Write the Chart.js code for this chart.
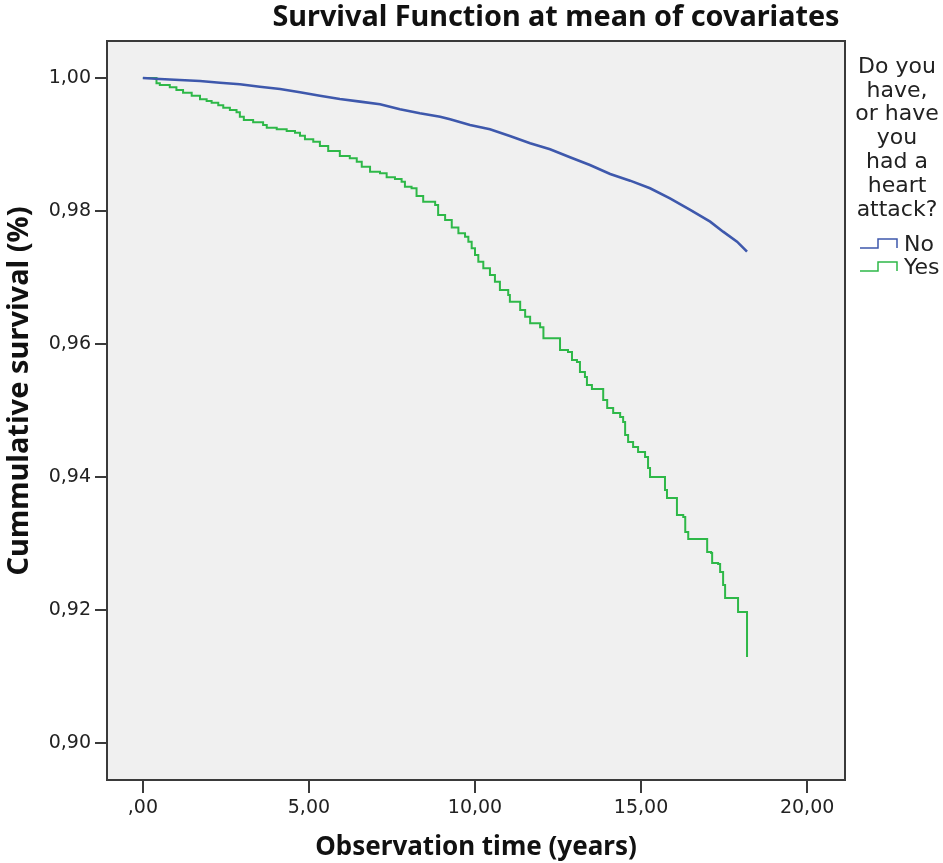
<!DOCTYPE html>
<html>
<head>
<meta charset="utf-8">
<script src="https://cdn.jsdelivr.net/npm/chart.js@4"></script>
<style>
html, body { margin: 0; padding: 0; background: #fff; }
canvas { display: block; }
</style>
</head>
<body>
<canvas id="km" width="943" height="863"></canvas>
<script>
// survival curves (time in years, cumulative survival)
const noTime = [0, 0.51, 1.11, 1.72, 2.32, 2.92, 3.52, 4.13, 4.73, 5.33, 5.93, 6.54, 7.14, 7.74, 8.34, 8.95, 9.25, 9.85, 10.45, 11.05, 11.66, 12.26, 12.86, 13.46, 14.07, 14.67, 15.27, 15.87, 16.48, 17.08, 17.47, 17.89, 18.19];
const noSurv = [1.0, 0.99985, 0.9997, 0.99955, 0.99929, 0.99905, 0.99869, 0.99835, 0.99785, 0.99734, 0.99684, 0.99644, 0.99605, 0.99529, 0.99469, 0.99418, 0.99379, 0.99293, 0.99229, 0.99128, 0.99018, 0.98928, 0.98808, 0.98692, 0.98556, 0.98456, 0.98342, 0.98191, 0.98015, 0.97839, 0.97689, 0.97539, 0.97388];

const yesTime = [0, 0.41, 0.51, 0.81, 1.01, 1.21, 1.47, 1.72, 1.92, 2.07, 2.27, 2.42, 2.62, 2.82, 2.92, 3.04, 3.32, 3.62, 3.73, 4.03, 4.33, 4.58, 4.73, 4.88, 5.13, 5.33, 5.58, 5.93, 6.23, 6.44, 6.59, 6.84, 7.14, 7.34, 7.59, 7.79, 7.89, 8.09, 8.24, 8.44, 8.80, 8.89, 9.10, 9.30, 9.50, 9.70, 9.80, 9.90, 10.00, 10.10, 10.25, 10.45, 10.60, 10.75, 11.00, 11.05, 11.36, 11.51, 11.66, 11.96, 12.06, 12.56, 12.80, 12.92, 13.07, 13.16, 13.31, 13.37, 13.52, 13.86, 13.98, 14.16, 14.37, 14.46, 14.52, 14.61, 14.76, 14.91, 15.12, 15.21, 15.27, 15.72, 15.78, 16.08, 16.27, 16.33, 16.42, 16.99, 17.11, 17.14, 17.32, 17.38, 17.47, 17.53, 17.92, 18.19];
const yesSurv = [1.0, 0.9992, 0.99895, 0.9986, 0.9982, 0.99779, 0.99734, 0.99679, 0.99654, 0.99629, 0.99589, 0.99553, 0.99519, 0.99484, 0.99418, 0.99368, 0.99334, 0.99293, 0.99253, 0.99229, 0.99203, 0.99177, 0.99132, 0.99078, 0.99042, 0.98977, 0.98902, 0.98827, 0.98792, 0.98741, 0.98666, 0.98591, 0.98567, 0.98507, 0.98481, 0.98441, 0.98365, 0.98341, 0.98226, 0.9814, 0.9809, 0.9794, 0.97865, 0.9775, 0.97665, 0.97614, 0.97539, 0.97439, 0.97338, 0.97238, 0.97138, 0.97038, 0.96937, 0.96812, 0.96737, 0.96636, 0.96511, 0.96411, 0.96311, 0.96251, 0.96086, 0.9591, 0.9588, 0.95759, 0.95729, 0.95579, 0.95504, 0.95383, 0.95323, 0.95158, 0.95038, 0.94962, 0.94902, 0.94827, 0.94632, 0.94526, 0.94451, 0.94376, 0.94301, 0.94135, 0.94, 0.93805, 0.93684, 0.93429, 0.93398, 0.93173, 0.93068, 0.92872, 0.92857, 0.92707, 0.92692, 0.92571, 0.92376, 0.9218, 0.9197, 0.91293];

const seriesNames = ['No', 'Yes'];
const seriesColors = ['#3E58AC', '#2EB848'];

const xTicks = [0, 5, 10, 15, 20];
const xTickLabels = [',00', '5,00', '10,00', '15,00', '20,00'];
const yTicks = [0.90, 0.92, 0.94, 0.96, 0.98, 1.00];
const yTickLabels = ['0,90', '0,92', '0,94', '0,96', '0,98', '1,00'];

const chartTitle = 'Survival Function at mean of covariates';
const yTitle = 'Cummulative survival (%)';
const legendTitle = ['Do you', 'have,', 'or have', 'you', 'had a', 'heart', 'attack?'];

const toPoints = (xs, ys) => xs.map((x, i) => ({ x: x, y: ys[i] }));

// grey plot panel, frame, titles and the step-symbol legend
const panel = {
    id: 'panel',
    beforeDraw(chart) {
        const { ctx, chartArea: a } = chart;
        ctx.save();
        ctx.fillStyle = '#F0F0F0';
        ctx.fillRect(a.left, a.top, a.right - a.left, a.bottom - a.top);
        ctx.restore();
    },
    afterDraw(chart) {
        const { ctx, chartArea: a } = chart;
        ctx.save();
        ctx.strokeStyle = '#3a3a3a';
        ctx.lineWidth = 2;
        ctx.strokeRect(a.left, a.top, a.right - a.left, a.bottom - a.top);

        ctx.fillStyle = '#111';
        ctx.textAlign = 'center';
        ctx.textBaseline = 'middle';
        ctx.font = 'bold 28.8px "Noto Sans"';
        ctx.fillText(chartTitle, 556, 18);

        // y axis title
        ctx.save();
        ctx.translate(20, 391);
        ctx.rotate(-Math.PI / 2);
        ctx.font = 'bold 29px "Noto Sans"';
        ctx.fillText(yTitle, 0, 0);
        ctx.restore();

        ctx.font = '22px "DejaVu Sans"';
        ctx.fillStyle = '#222';
        legendTitle.forEach((t, i) => ctx.fillText(t, 897, 67 + i * 23.8));

        ctx.textAlign = 'left';
        chart.data.datasets.forEach((ds, i) => {
            const cy = 245 + i * 23;
            ctx.strokeStyle = ds.borderColor;
            ctx.lineWidth = 1.5;
            ctx.beginPath();
            ctx.moveTo(860, cy + 3);
            ctx.lineTo(878, cy + 3);
            ctx.lineTo(878, cy - 6);
            ctx.lineTo(897, cy - 6);
            ctx.lineTo(897, cy + 3);
            ctx.stroke();
            ctx.fillStyle = '#222';
            ctx.fillText(ds.label, 904, cy);
        });
        ctx.restore();
    }
};

new Chart(document.getElementById('km').getContext('2d'), {
    type: 'line',
    data: {
        datasets: [{
            label: seriesNames[0],
            data: toPoints(noTime, noSurv),
            borderColor: seriesColors[0],
            borderWidth: 2.6,
            pointRadius: 0,
            tension: 0,
            fill: false
        }, {
            label: seriesNames[1],
            data: toPoints(yesTime, yesSurv),
            borderColor: seriesColors[1],
            borderWidth: 2,
            pointRadius: 0,
            stepped: 'before',
            fill: false
        }]
    },
    options: {
        responsive: false,
        animation: false,
        devicePixelRatio: 1,
        layout: { padding: { left: 0, top: 41, right: 98, bottom: 0 } },
        plugins: {
            legend: { display: false },
            tooltip: { enabled: false }
        },
        scales: {
            x: {
                type: 'linear',
                min: -1.08,
                max: 21.14,
                afterBuildTicks: axis => { axis.ticks = xTicks.map(v => ({ value: v })); },
                afterFit: axis => { axis.height = 83; },
                border: { display: false },
                grid: { drawOnChartArea: false, drawTicks: true, tickLength: 13, color: '#3a3a3a', lineWidth: 2 },
                ticks: {
                    autoSkip: false,
                    maxRotation: 0,
                    padding: 4,
                    color: '#222',
                    font: { family: 'DejaVu Sans', size: 19 },
                    callback: v => xTickLabels[xTicks.indexOf(v)]
                },
                title: {
                    display: true,
                    text: 'Observation time (years)',
                    color: '#111',
                    font: { family: 'Noto Sans', size: 26, weight: 'bold' },
                    padding: { top: 0, bottom: 0 }
                }
            },
            y: {
                type: 'linear',
                min: 0.89444,
                max: 1.00556,
                afterBuildTicks: axis => { axis.ticks = yTicks.map(v => ({ value: v })); },
                afterFit: axis => { axis.width = 107; },
                border: { display: false },
                grid: { drawOnChartArea: false, drawTicks: true, tickLength: 12, color: '#3a3a3a', lineWidth: 2 },
                ticks: {
                    padding: 4,
                    color: '#222',
                    font: { family: 'DejaVu Sans', size: 19 },
                    callback: v => yTickLabels[yTicks.findIndex(t => Math.abs(t - v) < 1e-6)]
                }
            }
        }
    },
    plugins: [panel]
});
</script>
</body>
</html>
